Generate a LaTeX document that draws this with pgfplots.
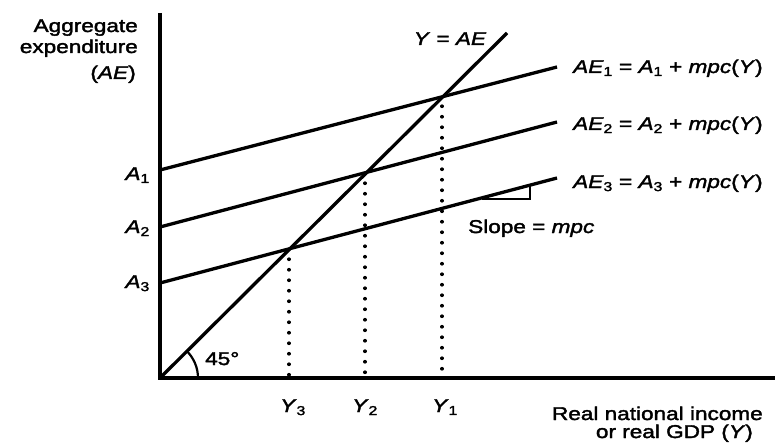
\documentclass[border=0pt]{standalone}
\usepackage{fontspec}
\setmainfont{Liberation Sans}[FakeStretch=1.22, FakeBold=2]
\usepackage{pgfplots}
\pgfplotsset{compat=1.18}
\newcommand{\s}[1]{\textsubscript{\upshape #1}}
\begin{document}
\begin{tikzpicture}
\begin{axis}[
  hide axis, x=1pt, y=1pt,
  xmin=-160, xmax=618, ymin=-67, ymax=378,
  clip=false,
  L/.style={black, line width=3.3pt, mark=none},
  D/.style={black, line width=3.2pt, mark=none, line cap=round, dash pattern=on 0.5pt off 10pt},
  nodes={font=\fontsize{18.5}{22}\selectfont, inner sep=0pt},
]
\path (axis cs:-160,-67) rectangle (axis cs:618,378);
% axes
\addplot[L] coordinates {(0,365) (0,0) (615,0)};
% Y = AE
\addplot[L] coordinates {(0,0) (347,345)};
% AE lines
\addplot[L] coordinates {(0,208) (397,311)};
\addplot[L] coordinates {(0,151) (397,256)};
\addplot[L] coordinates {(0,95) (397,200)};
% dotted drops
\addplot[D] coordinates {(282,272) (282,2)};
\addplot[D] coordinates {(205,195) (205,2)};
\addplot[D] coordinates {(129,119) (129,2)};
% slope triangle
\addplot[black, mark=none, line width=2pt] coordinates {(322,179.4) (370,179.4) (370,191.9)};
% 45 degree arc
\draw[line width=2.2pt] (axis cs:38,0) arc[start angle=0, end angle=45, radius=38pt];
% labels
\node[anchor=base east] at (axis cs:-22,346) {Aggregate};
\node[anchor=base east] at (axis cs:-22,325) {expenditure};
\node[anchor=base east] at (axis cs:-24,299) {(\textit{AE})};
\node[anchor=base] at (axis cs:290,333) {\textit{Y} = \textit{AE}};
\node[anchor=base west] at (axis cs:413,305) {\textit{AE}\s{1} = \textit{A}\s{1} + \textit{mpc}(\textit{Y})};
\node[anchor=base west] at (axis cs:413,248) {\textit{AE}\s{2} = \textit{A}\s{2} + \textit{mpc}(\textit{Y})};
\node[anchor=base west] at (axis cs:413,190) {\textit{AE}\s{3} = \textit{A}\s{3} + \textit{mpc}(\textit{Y})};
\node[anchor=base west] at (axis cs:308,145) {Slope = \textit{mpc}};
\node[anchor=base east] at (axis cs:-10,198) {\textit{A}\s{1}};
\node[anchor=base east] at (axis cs:-10,145) {\textit{A}\s{2}};
\node[anchor=base east] at (axis cs:-10,90) {\textit{A}\s{3}};
\node[anchor=base] at (axis cs:133,-34) {\textit{Y}\s{3}};
\node[anchor=base] at (axis cs:205,-34) {\textit{Y}\s{2}};
\node[anchor=base] at (axis cs:285,-34) {\textit{Y}\s{1}};
\node[anchor=base west] at (axis cs:45,13) {45°};
\node[anchor=base east] at (axis cs:603,-42) {Real national income};
\node[anchor=base east] at (axis cs:593,-60) {or real GDP (\textit{Y})};
\end{axis}
\end{tikzpicture}
\end{document}
